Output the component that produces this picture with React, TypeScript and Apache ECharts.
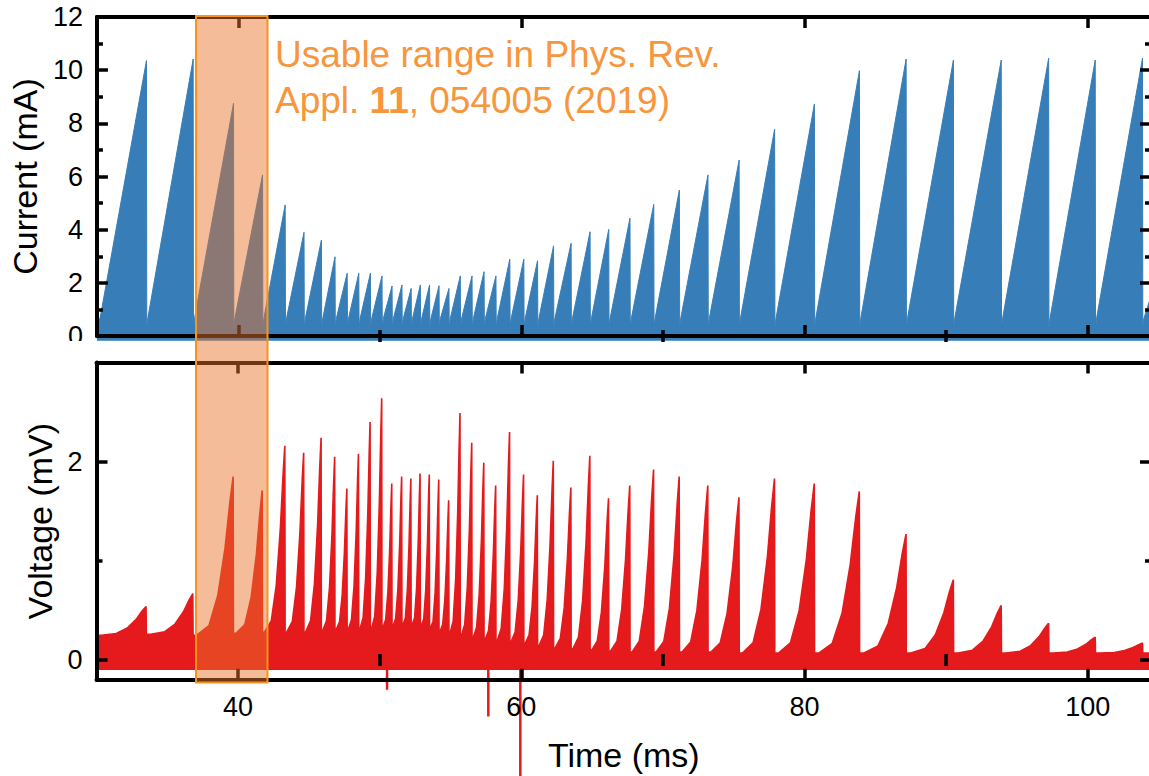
import React, { useEffect, useRef } from "react";
import * as echarts from "echarts";

// ---- data ----
// times (ms) at which the current resets (end of each sawtooth ramp)
const resetTimes = [
  33.5, 36.8, 39.65, 41.7, 43.3, 44.63, 45.86, 46.82, 47.68, 48.5, 49.32, 50.14,
  50.85, 51.55, 52.2, 52.85, 53.5, 54.17, 54.87, 55.67, 56.5, 57.35, 58.19,
  59.17, 60.16, 61.13, 62.26, 63.5, 64.84, 66.16, 67.66, 69.34, 71.15, 73.17,
  75.37, 77.88, 80.69, 83.87, 87.17, 90.51, 93.89, 97.24, 100.53, 103.87,
];
// current (mA) at the top of each ramp
const currentPeaks = [
  10.36, 10.42, 8.75, 6.06, 4.93, 3.9, 3.61, 2.98, 2.36, 2.36, 2.36, 2.26,
  1.88, 1.92, 1.79, 1.92, 1.92, 1.89, 1.79, 2.26, 2.26, 2.42, 2.26,
  2.89, 2.89, 2.83, 3.39, 3.49, 3.92, 4.01, 4.43, 4.95, 5.49, 6.06,
  6.62, 7.78, 8.73, 9.98, 10.42, 10.38, 10.38, 10.45, 10.38, 10.45,
];
// voltage (mV) at the top of each spike
const voltagePeaks = [
  0.54, 0.67, 1.85, 1.71, 2.16, 2.09, 2.24, 2.05, 1.73, 2.08, 2.4, 2.64,
  1.78, 1.85, 1.83, 1.88, 1.87, 1.82, 1.61, 2.49, 2.19, 1.99, 1.76,
  2.3, 1.87, 1.66, 2.01, 1.74, 2.06, 1.63, 1.76, 1.92, 1.85, 1.76,
  1.64, 1.83, 1.78, 1.7, 1.27, 0.81, 0.55, 0.37, 0.23, 0.17,
];
// top of the noisy voltage band before each spike (mV)
const voltageBase = [
  0.25, 0.26, 0.25, 0.27, 0.28, 0.28, 0.28, 0.29, 0.3, 0.3, 0.3, 0.3,
  0.32, 0.33, 0.33, 0.33, 0.32, 0.3, 0.28, 0.26, 0.24, 0.22, 0.2,
  0.19, 0.18, 0.16, 0.14, 0.12, 0.11, 0.1, 0.09, 0.08, 0.08, 0.08,
  0.08, 0.07, 0.07, 0.07, 0.07, 0.07, 0.07, 0.07, 0.07, 0.07,
];
// shape of one voltage spike: [fraction of period, fraction of height]
const spikeProfile = [
  [0.1, 0], [0.4, 0.06], [0.62, 0.25], [0.8, 0.55], [0.92, 0.84], [1, 1],
];
// downward glitches in the voltage trace
const glitchTimes = [50.52, 57.67, 59.93];
const glitchValues = [-0.3, -0.57, -1.3];

const currentStart = [[30.0, 0.25], [30.25, 0.75]];
const currentFloor = 0.3;
const currentRampStart = 0.65;
const currentEnd = [[104.35, 1.3]];

const xMajorTicks = [40, 60, 80, 100];
const xMinorTicks = [50, 70, 90];
const vMajorTicks = [0, 2];
const vMinorTicks = [1];

const FONT = '"Liberation Sans", Arial, Helvetica, sans-serif';
const BLUE = "#377EB8";
const RED = "#E41A1C";
const ORANGE = "#F7963C";

const W = 1156; // wider than the window so the right spine falls just off-page
const H = 776;
const X_MIN = 30;
const X_MAX = 104.47;
const LEFT = 96.5;
const RIGHT = W - 1151;
const G0_TOP = 17;
const G0_H = 319;
const G1_TOP = 362.5;
const G1_H = 317.3;

function buildCurrent() {
  const d: (number | string)[][] = currentStart.map((p) => [...p]);
  resetTimes.forEach((t, i) => {
    d.push([t, currentPeaks[i]]);
    d.push([t + 0.02, currentFloor]);
    d.push([t + 0.09, currentRampStart]);
  });
  currentEnd.forEach((p) => d.push([...p]));
  return d;
}

function buildVoltage() {
  const d: number[][] = [[X_MIN, voltageBase[0]]];
  let prev = X_MIN;
  resetTimes.forEach((t, i) => {
    const P = t - prev;
    const b = voltageBase[i];
    const v = voltagePeaks[i];
    spikeProfile.forEach(([f, h]) => d.push([prev + f * P, b + h * (v - b)]));
    const nb = i + 1 < voltageBase.length ? voltageBase[i + 1] : b;
    d.push([t + 0.02, nb]);
    prev = t;
  });
  d.push([104.4, voltageBase[voltageBase.length - 1]]);
  return d;
}

function buildGlitches() {
  const d: (number | string)[][] = [];
  glitchTimes.forEach((t, i) => {
    d.push([t, 0.05]);
    d.push([t, glitchValues[i]]);
    d.push([t, "-"]);
  });
  return d;
}

const axisLineStyle = { color: "#000", width: 4 };

function xAx(grid: number, position: "top" | "bottom", ticks: number[], len: number, opts: any = {}) {
  return {
    type: "value",
    gridIndex: grid,
    position,
    min: X_MIN,
    max: X_MAX,
    z: 10,
    axisLine: { show: true, onZero: false, lineStyle: axisLineStyle },
    axisTick: { show: true, inside: true, length: len, customValues: ticks, lineStyle: { color: "#000", width: 3.5 } },
    axisLabel: { show: false },
    splitLine: { show: false },
    ...opts,
  };
}

export default function App() {
  const ref = useRef<HTMLDivElement>(null);
  useEffect(() => {
    document.body.style.margin = "0";
    document.body.style.overflow = "hidden";
    document.documentElement.style.overflow = "hidden";
    if (!ref.current) return;
    const chart = echarts.init(ref.current, undefined, { renderer: "svg" });
    const labelStyle = { color: "#000", fontSize: 27, fontFamily: FONT };
    const nameStyle = { color: "#000", fontSize: 34, fontFamily: FONT };

    const option: any = {
      animation: false,
      backgroundColor: "#fff",
      grid: [
        { left: LEFT, right: RIGHT, top: G0_TOP, height: G0_H },
        { left: LEFT, right: RIGHT, top: G1_TOP, height: G1_H },
      ],
      xAxis: [
        xAx(0, "bottom", xMajorTicks, 11),
        xAx(0, "top", xMajorTicks, 11),
        xAx(0, "bottom", xMinorTicks, 6, { axisLine: { show: false } }),
        xAx(0, "top", xMinorTicks, 6, { axisLine: { show: false } }),
        xAx(1, "bottom", xMajorTicks, 11, {
          axisLabel: { show: true, customValues: xMajorTicks, margin: 14, ...labelStyle },
          name: "Time (ms)",
          nameLocation: "middle",
          nameGap: 58,
          nameTextStyle: nameStyle,
        }),
        xAx(1, "top", xMajorTicks, 11),
        xAx(1, "bottom", xMinorTicks, 6, { axisLine: { show: false } }),
        xAx(1, "top", xMinorTicks, 6, { axisLine: { show: false } }),
      ],
      yAxis: [
        {
          type: "value", gridIndex: 0, position: "left", min: 0, max: 12, interval: 2, z: 10,
          axisLine: { show: true, onZero: false, lineStyle: axisLineStyle },
          axisTick: { show: true, inside: true, length: 11, lineStyle: { color: "#000", width: 3.5 } },
          minorTick: { show: true, splitNumber: 2, length: 6, lineStyle: { color: "#000", width: 3.5 } },
          axisLabel: { show: true, margin: 14, ...labelStyle },
          splitLine: { show: false },
          name: "Current (mA)", nameLocation: "middle", nameGap: 50, nameTextStyle: nameStyle,
        },
        {
          type: "value", gridIndex: 0, position: "right", min: 0, max: 12, interval: 2, z: 10,
          axisLine: { show: true, onZero: false, lineStyle: axisLineStyle },
          axisTick: { show: true, inside: true, length: 11, lineStyle: { color: "#000", width: 3.5 } },
          minorTick: { show: true, splitNumber: 2, length: 6, lineStyle: { color: "#000", width: 3.5 } },
          axisLabel: { show: false },
          splitLine: { show: false },
        },
        {
          type: "value", gridIndex: 1, position: "left", min: -0.2, max: 3, z: 10,
          axisLine: { show: true, onZero: false, lineStyle: axisLineStyle },
          axisTick: { show: true, inside: true, length: 11, customValues: vMajorTicks, lineStyle: { color: "#000", width: 3.5 } },
          axisLabel: { show: true, margin: 14, customValues: vMajorTicks, ...labelStyle },
          splitLine: { show: false },
          name: "Voltage (mV)", nameLocation: "middle", nameGap: 39, nameTextStyle: nameStyle,
        },
        {
          type: "value", gridIndex: 1, position: "right", min: -0.2, max: 3, z: 10,
          axisLine: { show: true, onZero: false, lineStyle: axisLineStyle },
          axisTick: { show: true, inside: true, length: 11, customValues: vMajorTicks, lineStyle: { color: "#000", width: 3.5 } },
          axisLabel: { show: false },
          splitLine: { show: false },
        },
        {
          type: "value", gridIndex: 1, position: "left", min: -0.2, max: 3, z: 10,
          axisLine: { show: false },
          axisTick: { show: true, inside: true, length: 6, customValues: vMinorTicks, lineStyle: { color: "#000", width: 3.5 } },
          axisLabel: { show: false },
          splitLine: { show: false },
        },
        {
          type: "value", gridIndex: 1, position: "right", min: -0.2, max: 3, z: 10,
          axisLine: { show: false },
          axisTick: { show: true, inside: true, length: 6, customValues: vMinorTicks, lineStyle: { color: "#000", width: 3.5 } },
          axisLabel: { show: false },
          splitLine: { show: false },
        },
      ],
      series: [
        {
          name: "Current",
          type: "line",
          xAxisIndex: 0,
          yAxisIndex: 0,
          data: buildCurrent(),
          showSymbol: false,
          symbol: "none",
          clip: false,
          lineStyle: { color: BLUE, width: 1 },
          areaStyle: { color: BLUE, opacity: 1, origin: -0.18 },
        },
        {
          name: "Voltage",
          type: "line",
          xAxisIndex: 4,
          yAxisIndex: 2,
          data: buildVoltage(),
          showSymbol: false,
          symbol: "none",
          clip: false,
          lineStyle: { color: RED, width: 1.6 },
          areaStyle: { color: RED, opacity: 1, origin: -0.1 },
        },
        {
          name: "Glitches",
          type: "line",
          xAxisIndex: 4,
          yAxisIndex: 2,
          data: buildGlitches(),
          showSymbol: false,
          symbol: "none",
          clip: false,
          connectNulls: false,
          lineStyle: { color: RED, width: 2.5 },
        },
      ],
    };
    chart.setOption(option);

    const x0 = chart.convertToPixel({ xAxisIndex: 0 }, 37.0) as number;
    const x1 = chart.convertToPixel({ xAxisIndex: 0 }, 42.05) as number;
    chart.setOption({
      graphic: [
        {
          type: "rect",
          z: 50,
          shape: { x: 0, y: 341, width: 90, height: 18 },
          style: { fill: "#fff" },
        },
        {
          type: "rect",
          z: 100,
          shape: { x: x0, y: 16, width: x1 - x0, height: 682.5 - 16 },
          style: { fill: "rgba(232,116,41,0.48)", stroke: "#F7931E", lineWidth: 2 },
        },
        {
          type: "text",
          z: 100,
          x: 275,
          y: 31,
          style: {
            text: "{a|Usable range in Phys. Rev.}\n{a|Appl. }{b|11}{a|, 054005 (2019)}",
            fill: ORANGE,
            font: `37px ${FONT}`,
            rich: {
              a: { fontSize: 37, fontFamily: FONT, fill: ORANGE, color: ORANGE, lineHeight: 46 },
              b: { fontSize: 37, fontFamily: FONT, fontWeight: "bold", fill: ORANGE, color: ORANGE, lineHeight: 46 },
            },
          },
        },
      ],
    });

    return () => chart.dispose();
  }, []);
  return <div ref={ref} style={{ width: W, height: H }} />;
}
